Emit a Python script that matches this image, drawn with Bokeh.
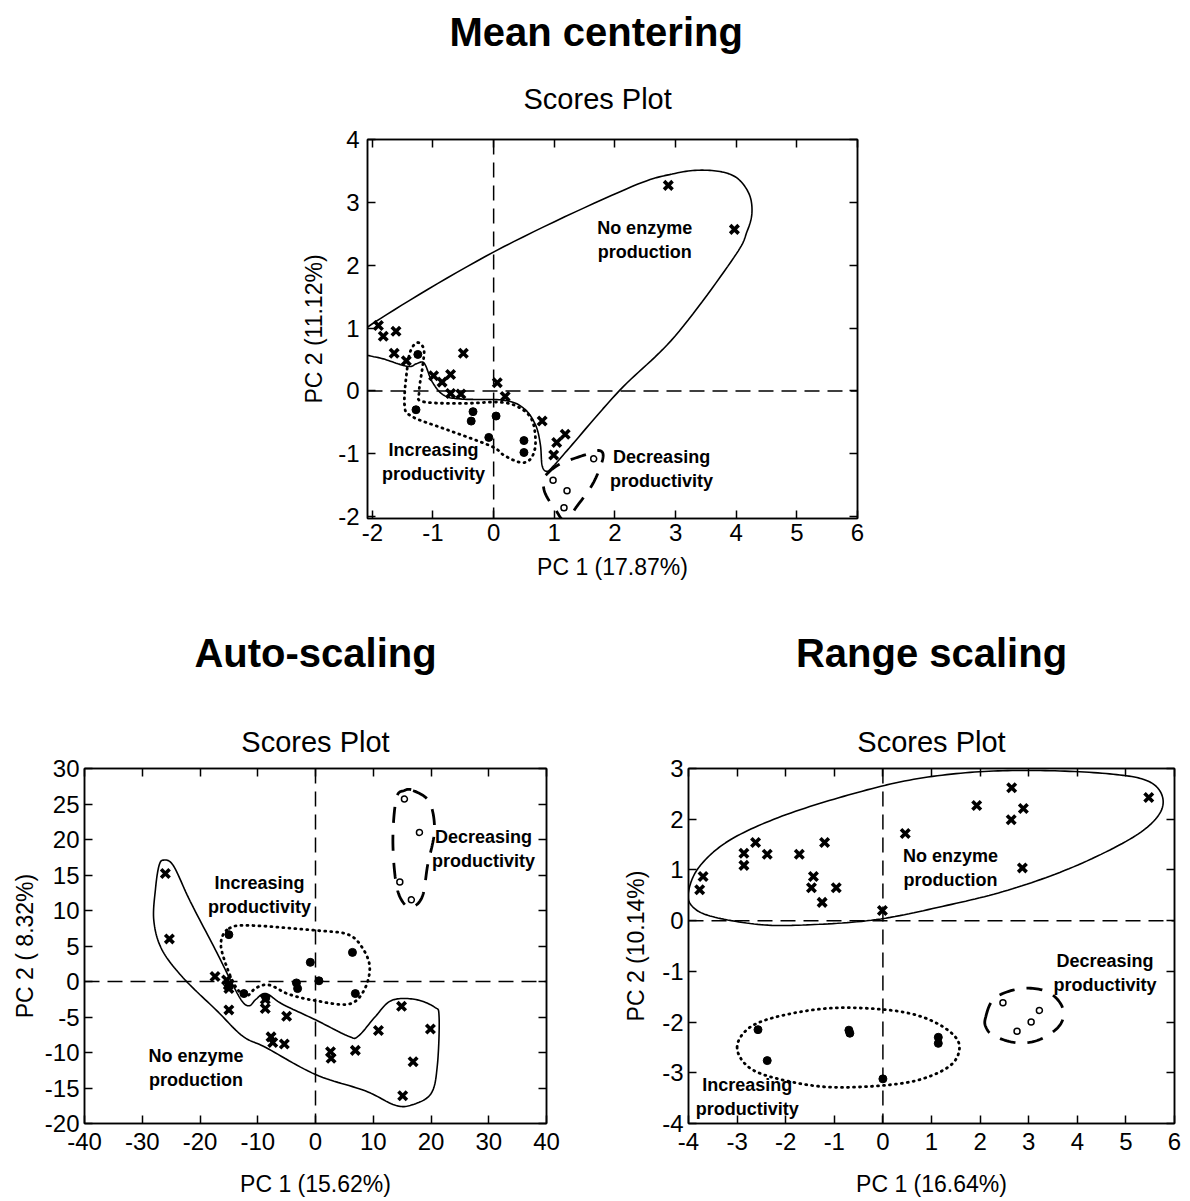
import numpy as np
from bokeh.plotting import figure
from bokeh.models import Range1d, LinearAxis, Span, Title, FixedTicker
from bokeh.layouts import column, row
from bokeh.embed import file_html
from bokeh.resources import INLINE
from bokeh.core.properties import value

FONT = "Liberation Sans"

# ---------------- Mean centering ----------------
mc_none_x = [2.88, 3.97, -1.90, -1.82, -1.61, -1.64, -1.44, -0.50, -0.99, -0.85, -0.71, -0.71, -0.54, 0.06, 0.19, 0.80, 1.04, 1.18, 0.99]
mc_none_y = [3.27, 2.57, 1.04, 0.87, 0.95, 0.60, 0.48, 0.60, 0.24, 0.14, 0.26, -0.04, -0.05, 0.13, -0.09, -0.48, -0.82, -0.69, -1.02]
mc_inc_x = [-1.25, -1.28, -0.34, -0.37, -0.08, 0.04, 0.50, 0.50]
mc_inc_y = [0.58, -0.30, -0.33, -0.48, -0.74, -0.40, -0.79, -0.98]
mc_dec_x = [1.65, 0.98, 1.21, 1.16]
mc_dec_y = [-1.08, -1.42, -1.59, -1.86]

mc_none_ox = [-2.24, -1.95, 0.02, 2.18, 2.99, 3.53, 3.96, 4.20, 4.26, 4.18, 3.96, 2.99, 2.07, 1.21, 0.99, 0.88, 0.80, 0.77, 0.69, 0.50, 0.18, -0.52, -0.82, -1.01, -1.12, -1.18, -1.28, -1.42, -1.82, -2.15]
mc_none_oy = [0.80, 1.10, 2.22, 3.21, 3.46, 3.51, 3.42, 3.16, 2.85, 2.54, 2.12, 0.87, 0.00, -0.95, -1.19, -1.28, -1.19, -0.85, -0.54, -0.28, -0.15, -0.13, -0.07, 0.14, 0.40, 0.46, 0.43, 0.39, 0.51, 0.60]
mc_inc_ox = [-1.25, -1.15, -1.17, -1.23, -1.17, -0.52, 0.12, 0.45, 0.64, 0.69, 0.61, 0.45, 0.18, -0.04, -0.79, -1.34, -1.47, -1.42, -1.36]
mc_inc_oy = [0.77, 0.66, 0.40, -0.02, -0.17, -0.20, -0.18, -0.28, -0.48, -0.85, -1.08, -1.14, -1.03, -0.88, -0.61, -0.41, -0.22, 0.40, 0.66]
mc_dec_ox = [0.88, 1.10, 1.53, 1.75, 1.80, 1.64, 1.37, 1.18, 1.02, 0.85, 0.82]
mc_dec_oy = [-1.32, -1.16, -1.01, -0.95, -1.08, -1.47, -1.84, -2.07, -1.89, -1.63, -1.42]

mc_lab_x = [2.49, -0.99, 2.77]
mc_lab_y = [2.40, -1.13, -1.25]
mc_lab_t = ["No enzyme\nproduction", "Increasing\nproductivity", "Decreasing\nproductivity"]

# ---------------- Auto-scaling ----------------
as_none_x = [-26.0, -25.3, -17.4, -15.4, -15.1, -15.0, -15.0, -8.7, -8.7, -5.0, -7.7, -7.4, -5.4, 2.6, 2.7, 6.9, 10.9, 14.9, 19.9, 16.9, 15.1]
as_none_y = [15.2, 6.0, 0.7, 0.2, -0.5, -1.0, -4.0, -2.5, -3.8, -4.9, -7.8, -8.6, -8.8, -9.9, -10.8, -9.7, -6.9, -3.5, -6.7, -11.3, -16.1]
as_inc_x = [-15.0, -12.4, -8.6, -3.3, -3.1, -0.9, 0.6, 6.4, 6.9]
as_inc_y = [6.6, -1.7, -2.3, -0.2, -1.0, 2.7, 0.1, 4.1, -1.7]
as_dec_x = [15.4, 18.0, 14.6, 16.6]
as_dec_y = [25.7, 21.0, 14.0, 11.5]

as_none_ox = [-26.3, -24.6, -21.7, -17.1, -14.3, -12.6, -11.4, -10.3, -8.6, -5.7, 0.0, 5.7, 7.4, 10.3, 13.1, 17.1, 20.6, 21.4, 21.1, 20.0, 16.6, 13.7, 8.6, 0.0, -8.6, -12.6, -17.1, -22.9, -26.6, -28.0, -27.7, -27.1]
as_none_oy = [17.1, 16.3, 11.3, 4.1, -0.5, -2.9, -3.4, -2.5, -1.7, -3.2, -5.4, -7.7, -7.7, -5.0, -2.7, -2.5, -3.6, -5.0, -11.8, -15.8, -17.4, -17.4, -15.4, -13.1, -9.3, -7.7, -4.1, 0.5, 4.5, 8.6, 13.1, 16.3]
as_inc_ox = [-14.9, -11.4, 0.0, 5.7, 8.3, 9.4, 8.3, 5.7, 0.0, -4.6, -8.0, -10.3, -12.0, -14.0, -16.0, -16.3]
as_inc_oy = [7.5, 7.9, 7.2, 6.6, 4.5, 1.8, -1.4, -3.2, -2.7, -1.8, -0.5, -0.9, -2.0, -0.5, 3.6, 5.9]
as_dec_ox = [16.9, 19.7, 20.6, 19.4, 18.6, 17.1, 15.4, 14.0, 13.4, 14.0, 15.4]
as_dec_oy = [26.9, 25.3, 21.3, 16.3, 12.2, 10.6, 10.9, 13.6, 19.9, 25.8, 26.9]

as_lab_x = [-9.7, -20.7, 29.1]
as_lab_y = [12.2, -12.2, 18.6]
as_lab_t = ["Increasing\nproductivity", "No enzyme\nproduction", "Decreasing\nproductivity"]

# ---------------- Range scaling ----------------
rs_none_x = [2.65, 5.47, 1.93, 2.89, 2.64, 0.46, -2.62, -1.20, -2.86, -2.38, -1.72, -2.86, 2.87, -3.70, -1.43, -3.77, -1.47, -0.96, -1.25, -0.01]
rs_none_y = [2.62, 2.43, 2.27, 2.21, 1.99, 1.72, 1.54, 1.54, 1.33, 1.31, 1.31, 1.09, 1.04, 0.87, 0.87, 0.61, 0.65, 0.65, 0.36, 0.20]
rs_inc_x = [-2.57, -2.38, -0.70, -0.68, 1.14, 1.14, 0.00]
rs_inc_y = [-2.15, -2.76, -2.16, -2.22, -2.30, -2.42, -3.12]
rs_dec_x = [2.47, 3.22, 3.05, 2.76]
rs_dec_y = [-1.62, -1.77, -2.00, -2.18]

rs_none_ox = [-4.00, -3.78, -3.18, -2.16, -0.81, 0.54, 1.89, 3.24, 4.59, 5.41, 5.74, 5.68, 5.14, 3.92, 2.57, 1.22, -0.14, -1.49, -2.50, -3.51, -3.92]
rs_none_oy = [0.57, 1.06, 1.57, 2.03, 2.45, 2.77, 2.93, 2.96, 2.90, 2.77, 2.48, 2.09, 1.64, 1.06, 0.60, 0.28, 0.02, -0.08, -0.08, 0.08, 0.28]
rs_inc_ox = [-3.00, -2.76, -2.16, -1.15, -0.14, 0.68, 1.28, 1.57, 1.42, 0.81, 0.00, -1.15, -2.16, -2.76]
rs_inc_oy = [-2.50, -2.12, -1.89, -1.73, -1.74, -1.86, -2.12, -2.44, -2.83, -3.12, -3.25, -3.28, -3.12, -2.89]
rs_dec_ox = [2.11, 2.30, 2.84, 3.38, 3.69, 3.65, 3.24, 2.77, 2.30, 2.13]
rs_dec_oy = [-1.92, -1.53, -1.34, -1.40, -1.70, -2.05, -2.34, -2.41, -2.28, -2.12]

rs_lab_x = [1.39, 4.57, -2.79]
rs_lab_y = [1.03, -1.03, -3.48]
rs_lab_t = ["No enzyme\nproduction", "Decreasing\nproductivity", "Increasing\nproductivity"]


def smooth_closed(xs, ys, n=14):
    P = np.column_stack([xs, ys]).astype(float)
    m = len(P)
    t = np.linspace(0, 1, n, endpoint=False)[:, None]
    segs = []
    for i in range(m):
        p0, p1, p2, p3 = P[i - 1], P[i], P[(i + 1) % m], P[(i + 2) % m]
        seg = 0.5 * ((2 * p1) + (-p0 + p2) * t + (2 * p0 - 5 * p1 + 4 * p2 - p3) * t ** 2
                     + (-p0 + 3 * p1 - 3 * p2 + p3) * t ** 3)
        segs.append(seg)
    out = np.vstack(segs + [segs[0][:1]])
    return out[:, 0], out[:, 1]


def make_fig(xr, yr, xt, yt, fw, fh, ml, mr, mt, mb, xlabel, ylabel,
             xl_stand=2, xa_stand=9, yl_stand=6, ya_stand=6):
    p = figure(x_range=Range1d(*xr), y_range=Range1d(*yr), frame_width=fw, frame_height=fh,
               min_border_left=ml, min_border_right=mr, min_border_top=mt, min_border_bottom=mb,
               output_backend="svg", toolbar_location=None, title=None)
    p.xgrid.visible = False
    p.ygrid.visible = False
    p.outline_line_color = "black"
    p.outline_line_width = 1.5
    p.background_fill_color = "white"
    p.border_fill_color = "white"
    for ax, ticks, lab, ls, As in ((p.xaxis[0], xt, xlabel, xl_stand, xa_stand),
                                   (p.yaxis[0], yt, ylabel, yl_stand, ya_stand)):
        ax.ticker = FixedTicker(ticks=ticks)
        ax.major_label_overrides = {t: str(t) for t in ticks}
        ax.major_tick_in = 8
        ax.major_tick_out = 0
        ax.major_tick_line_width = 1.5
        ax.minor_tick_line_color = None
        ax.axis_line_width = 1.5
        ax.major_label_text_font = FONT
        ax.major_label_text_font_size = "24px"
        ax.major_label_text_color = "black"
        ax.major_label_standoff = ls
        ax.axis_label = lab
        ax.axis_label_text_font = FONT
        ax.axis_label_text_font_size = "23px"
        ax.axis_label_text_font_style = "normal"
        ax.axis_label_text_color = "black"
        ax.axis_label_standoff = As
    for side, ticks in (("above", xt), ("right", yt)):
        a = LinearAxis(ticker=FixedTicker(ticks=ticks), major_tick_in=8, major_tick_out=0,
                       major_tick_line_width=1.5, minor_tick_line_color=None,
                       major_label_text_font_size="0px", major_label_text_color=None,
                       major_label_standoff=0, axis_line_width=1.5)
        p.add_layout(a, side)
    p.add_layout(Span(location=0, dimension="height", line_color="black", line_width=1.5, line_dash="15 8"))
    p.add_layout(Span(location=0, dimension="width", line_color="black", line_width=1.5, line_dash="15 8"))
    return p


def add_content(p, nx, ny, ix, iy, dx, dy, o_none, o_inc, o_dec, lx, ly, lt):
    sx, sy = smooth_closed(*o_none)
    p.line(sx, sy, line_color="black", line_width=1.6)
    sx, sy = smooth_closed(*o_inc)
    p.line(sx, sy, line_color="black", line_width=2.8, line_dash="1 5", line_cap="round")
    sx, sy = smooth_closed(*o_dec)
    p.line(sx, sy, line_color="black", line_width=2.8, line_dash="16 12")
    p.scatter(nx, ny, marker="x", size=12, line_width=3.6, line_color="black")
    p.scatter(ix, iy, marker="circle", size=8, fill_color="black", line_color="black")
    p.scatter(dx, dy, marker="circle", size=6, fill_color="white", line_color="black", line_width=1.5)
    p.text(lx, ly, text=lt, text_font=value(FONT), text_font_style="bold", text_font_size="18px",
           text_align="center", text_baseline="middle", text_color="black", text_line_height=1.2)


def add_titles(p, sub, main, sub_kw, main_kw):
    p.add_layout(Title(text=sub, text_font=FONT, text_font_size="29px", text_font_style="normal",
                       text_color="black", vertical_align="bottom", **sub_kw), "above")
    p.add_layout(Title(text=main, text_font=FONT, text_font_size="40px", text_font_style="bold",
                       text_color="black", vertical_align="top", **main_kw), "above")


# top figure
p1 = make_fig((-2.08, 6.0), (-2.03, 4.0), list(range(-2, 7)), list(range(-2, 5)),
              490, 379, 367, 325, 139, 75, "PC 1 (17.87%)", "PC 2 (11.12%)",
              xl_stand=5, xa_stand=10, yl_stand=8, ya_stand=8)
add_content(p1, mc_none_x, mc_none_y, mc_inc_x, mc_inc_y, mc_dec_x, mc_dec_y,
            (mc_none_ox, mc_none_oy), (mc_inc_ox, mc_inc_oy), (mc_dec_ox, mc_dec_oy),
            mc_lab_x, mc_lab_y, mc_lab_t)
add_titles(p1, "Scores Plot", "Mean centering",
           dict(align="left", offset=156, standoff=50), dict(align="left", offset=82, standoff=0))

# bottom-left
p2 = make_fig((-40, 40), (-20, 30), list(range(-40, 41, 10)), list(range(-20, 31, 5)),
              462, 355, 84, 54, 172, 78, "PC 1 (15.62%)", "PC 2 ( 8.32%)",
              xl_stand=9, xa_stand=18, yl_stand=5, ya_stand=4)
add_content(p2, as_none_x, as_none_y, as_inc_x, as_inc_y, as_dec_x, as_dec_y,
            (as_none_ox, as_none_oy), (as_inc_ox, as_inc_oy), (as_dec_ox, as_dec_oy),
            as_lab_x, as_lab_y, as_lab_t)
add_titles(p2, "Scores Plot", "Auto-scaling",
           dict(align="center", standoff=21), dict(align="center", standoff=74))

# bottom-right
p3 = make_fig((-4, 6), (-4, 3), list(range(-4, 7)), list(range(-4, 4)),
              486, 355, 88, 8, 172, 78, "PC 1 (16.64%)", "PC 2 (10.14%)",
              xl_stand=9, xa_stand=18, yl_stand=5, ya_stand=10)
add_content(p3, rs_none_x, rs_none_y, rs_inc_x, rs_inc_y, rs_dec_x, rs_dec_y,
            (rs_none_ox, rs_none_oy), (rs_inc_ox, rs_inc_oy), (rs_dec_ox, rs_dec_oy),
            rs_lab_x, rs_lab_y, rs_lab_t)
add_titles(p3, "Scores Plot", "Range scaling",
           dict(align="center", standoff=21), dict(align="center", standoff=74))

layout = column(p1, row(p2, p3))
open("out.html", "w").write(file_html(layout, INLINE))
